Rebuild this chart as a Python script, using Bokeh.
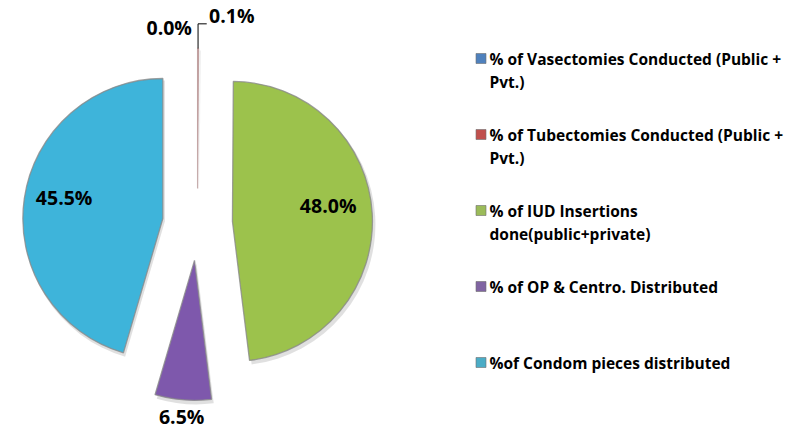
import numpy as np
from bokeh.plotting import figure
from bokeh.models import Range1d
from bokeh.embed import file_html
from bokeh.resources import INLINE
from bokeh.core.properties import value

# ---------------- data ----------------
categories = [
    "% of Vasectomies Conducted (Public + Pvt.)",
    "% of Tubectomies Conducted (Public + Pvt.)",
    "% of  IUD Insertions done(public+private)",
    "% of OP &  Centro. Distributed",
    "%of Condom pieces distributed",
]
legend_lines = [
    ["% of Vasectomies Conducted (Public +", "Pvt.)"],
    ["% of Tubectomies Conducted (Public +", "Pvt.)"],
    ["% of  IUD Insertions", "done(public+private)"],
    ["% of OP &  Centro. Distributed"],
    ["%of Condom pieces distributed"],
]
shares = [0.0, 0.1, 48.0, 6.5, 45.5]
labels = ["0.0%", "0.1%", "48.0%", "6.5%", "45.5%"]

# ---------------- styles ----------------
slice_colors = ["#4F81BD", "#C0504D", "#9CC24C", "#7E58AC", "#3EB4DA"]
slice_edges = ["#8a8a8a", "#b89a9a", "#8a8a8a", "#8a8a8a", "#8a8a8a"]
legend_colors = ["#4F81BD", "#C0504D", "#9BBB59", "#8064A2", "#4BACC6"]
explode = [35, 35, 35, 37, 35]
label_dist = [163, 176, 97, 157, 101]
label_turn = [-10, 11, -6, 0, 4]

W, H = 801, 429
CX, CY = 197, 206      # pie centre (data units == pixels)
R = 140

p = figure(width=W, height=H, output_backend="svg", toolbar_location=None,
           x_range=Range1d(0, W), y_range=Range1d(0, H), min_border=0)
p.axis.visible = False
p.grid.visible = False
p.outline_line_color = None
p.background_fill_color = "white"
p.border_fill_color = "white"

vals = np.array(shares, dtype=float)
total = vals.sum()
ends = np.cumsum(vals) / total * 2 * np.pi        # clockwise from 12 o'clock
starts = ends - vals / total * 2 * np.pi
mids = (starts + ends) / 2

ex = np.array(explode)
ax = CX + ex * np.sin(mids)
ay = CY + ex * np.cos(mids)

vis = vals > 0   # a zero share has no visible slice
sa = (np.pi / 2 - starts)[vis]
ea = (np.pi / 2 - ends)[vis]
cols = [c for c, v in zip(slice_colors, vis) if v]
edges = [c for c, v in zip(slice_edges, vis) if v]

# shadows
p.wedge(x=ax[vis] + 2, y=ay[vis] - 3, radius=R + 1, start_angle=sa,
        end_angle=ea, direction="clock",
        fill_color="black", fill_alpha=0.12, line_color=None)
# slices
p.wedge(x=ax[vis], y=ay[vis], radius=R, start_angle=sa,
        end_angle=ea, direction="clock",
        fill_color=cols, line_color=edges, line_alpha=0.8,
        line_width=1.3)

# data labels
lt = mids + np.radians(label_turn)
ld = np.array(label_dist)
lx = ax + ld * np.sin(lt)
ly = ay + ld * np.cos(lt)
p.text(x=lx, y=ly, text=labels, text_align="center", text_baseline="middle",
       text_font=value("Open Sans"), text_font_style="bold",
       text_font_size="19.5px", text_color="black")

# leader line for the 0.1% label
i = 1
rim_x = ax[i] + R * np.sin(mids[i])
rim_y = ay[i] + R * np.cos(mids[i])
p.line(x=[rim_x, rim_x, lx[i] - 25], y=[rim_y, ly[i] - 8, ly[i] - 8],
       line_color="black", line_width=1)

# legend
sq_cx = 480.5
txt_x = 489
row_y0 = H - 58
row_step = 76
line_step = 23.5
sq_x, sq_y, tx, ty, tt = [], [], [], [], []
for k, lines in enumerate(legend_lines):
    y0 = row_y0 - k * row_step
    sq_x.append(sq_cx)
    sq_y.append(y0)
    for j, ln in enumerate(lines):
        tx.append(txt_x)
        ty.append(y0 - j * line_step)
        tt.append(ln)
p.rect(x=sq_x, y=sq_y, width=10, height=10, fill_color=legend_colors,
       line_color="#6f6f6f", line_width=0.6)
p.text(x=tx, y=ty, text=tt, text_align="left", text_baseline="middle",
       text_font=value("Open Sans"), text_font_style="bold",
       text_font_size="15.5px", text_color="black")

open("out.html", "w").write(file_html(p, INLINE))
